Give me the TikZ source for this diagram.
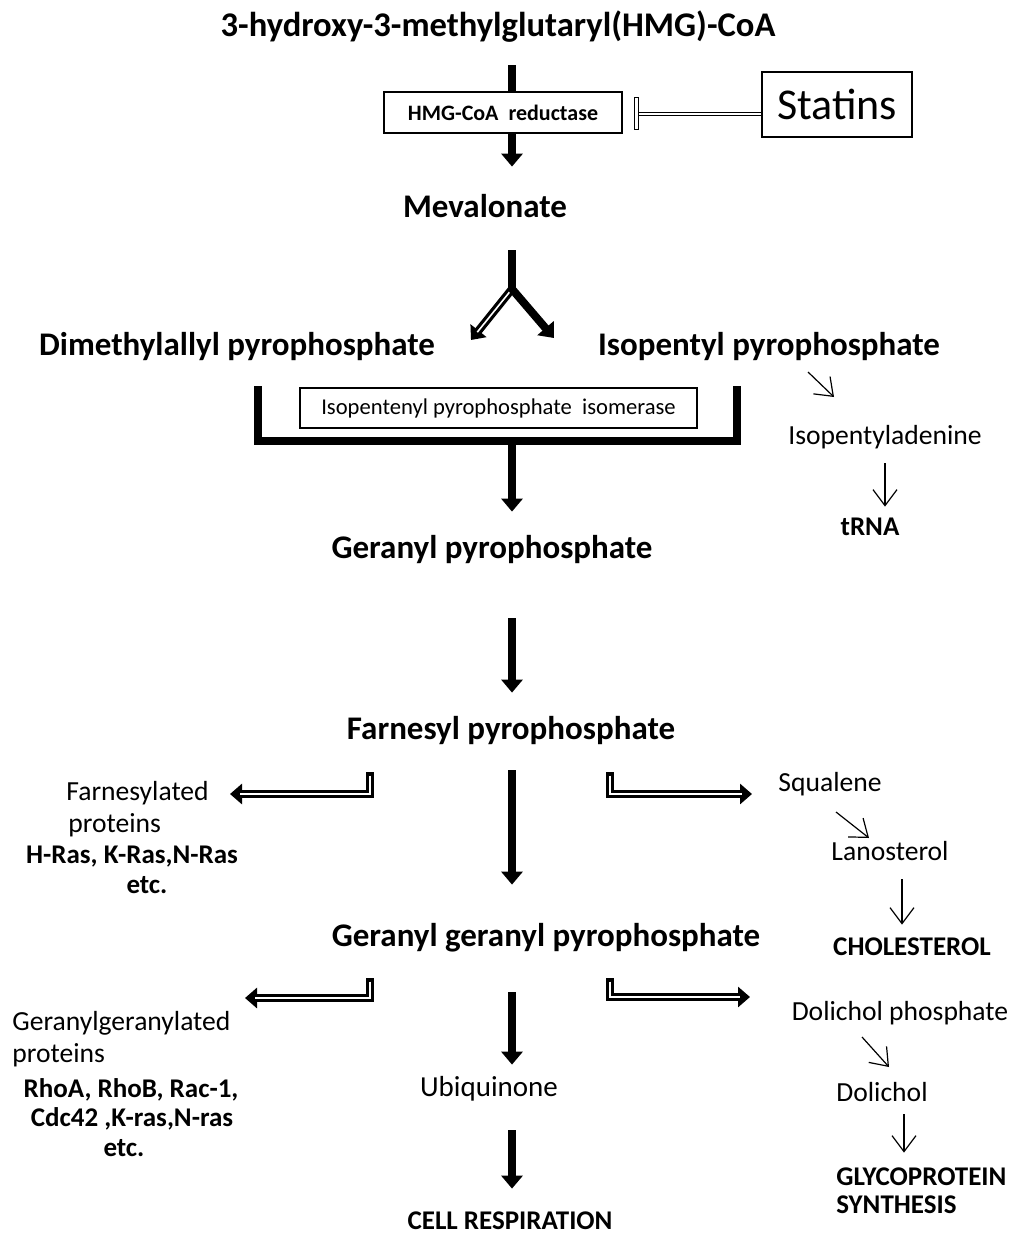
\documentclass[tikz,border=0pt]{standalone}
\usepackage{fontspec}
\setmainfont{Carlito}
\usetikzlibrary{arrows.meta}

\tikzset{
  big/.style={font=\bfseries\fontsize{16.5}{20}\selectfont,text height=12pt,text depth=4pt,inner sep=0pt,anchor=base},
  side/.style={font=\fontsize{13.8}{16}\selectfont,text height=10pt,text depth=3.5pt,inner sep=0pt,anchor=base},
  sidebold/.style={font=\bfseries\fontsize{13.5}{16}\selectfont,text height=10pt,text depth=3.5pt,inner sep=0pt,anchor=base},
  enzbox/.style={draw,line width=1pt,inner sep=0pt},
  fat/.style={line width=4pt,-{Triangle[width=10.5pt,length=6.5pt]}},
  fatline/.style={line width=4pt},
  hollow/.style={line width=4pt,-{Triangle[width=10pt,length=6pt]},
    postaction={draw=white,line width=0.8pt,-,shorten <=1.8pt,shorten >=5pt}},
  thinarrow/.style={line width=0.6pt,-{Straight Barb[length=8pt,width=12pt]}},
  inhib/.style={double,double distance=1.3pt,line width=0.5pt}
}

\begin{document}
\begin{tikzpicture}[x=0.5pt,y=-0.5pt]
\useasboundingbox (0,0) rectangle (1014,1236);
%% main column
\coordinate (spine) at (512,0);
\node[big,font=\bfseries\fontsize{17.3}{20}\selectfont] (hmgcoa) at (498,37) {3-hydroxy-3-methylglutaryl(HMG)-CoA};
\node[enzbox,minimum width=119pt,minimum height=20.5pt,font=\bfseries\fontsize{11}{13}\selectfont] (reductase) at (503,113) {HMG-CoA~~reductase};
\node[draw,line width=0.8pt,minimum width=75pt,minimum height=32.5pt,inner sep=0pt,font=\fontsize{22}{24}\selectfont] (statins) at (837,104.5) {Statins};
\node[draw,line width=0.5pt,minimum width=2pt,minimum height=16pt,inner sep=0pt] (tbar) at (636,114) {};
\node[big] (meval) at (485,217) {Mevalonate};
\node[big] (dmapp) at (237,355) {Dimethylallyl pyrophosphate};
\node[big] (ipp) at (769,355) {Isopentyl pyrophosphate};
\node[enzbox,line width=0.8pt,minimum width=198.5pt,minimum height=20pt,font=\fontsize{11.3}{13}\selectfont] (isomerase) at (498.5,408) {Isopentenyl pyrophosphate~ isomerase};
\node[big] (gpp) at (492,558) {Geranyl pyrophosphate};
\node[big] (fpp) at (511,739) {Farnesyl pyrophosphate};
\node[big] (ggpp) at (546,946) {Geranyl geranyl pyrophosphate};
\node[side,font=\fontsize{14.5}{16}\selectfont] (ubiq) at (489,1096) {Ubiquinone};
\node[sidebold] (resp) at (510,1229) {CELL RESPIRATION};

%% right side
\node[side] (ipa) at (885,444) {Isopentyladenine};
\node[sidebold] (trna) at (870,535) {tRNA};
\node[side] (squal) at (830,791) {Squalene};
\node[side] (lano) at (890,860) {Lanosterol};
\node[sidebold] (chol) at (912,955) {CHOLESTEROL};
\node[side] (dolp) at (900,1020) {Dolichol phosphate};
\node[side] (dol) at (882,1101) {Dolichol};
\node[sidebold,anchor=base west] (glyco) at (836,1185) {GLYCOPROTEIN};
\node[sidebold,anchor=base west] (synth) at (836,1213) {SYNTHESIS};

%% left side
\node[side,anchor=base west] (fprot) at (66,800) {Farnesylated};
\node[side,anchor=base west] (fprot2) at (68,832) {proteins};
\node[sidebold] (ras) at (132,863) {H-Ras, K-Ras,N-Ras};
\node[sidebold] (fetc) at (147,893) {etc.};
\node[side,anchor=base west] (ggprot) at (12,1030) {Geranylgeranylated};
\node[side,anchor=base west] (ggprot2) at (12,1062) {proteins};
\node[sidebold] (rho) at (131,1097) {RhoA, RhoB, Rac-1,};
\node[sidebold] (cdc) at (132,1126) {Cdc42 ,K-ras,N-ras};
\node[sidebold] (ggetc) at (124,1156) {etc.};

%% points
\coordinate (fork) at (512,289);
\coordinate (dmtip) at (471,340);
\coordinate (iptip) at (554,338);
\coordinate (brk) at (512,441);
\coordinate (fleft) at (370,772);
\coordinate (fltip) at (230,794);
\coordinate (fright) at (610,772);
\coordinate (frtip) at (752,794);
\coordinate (gleft) at (370,978);
\coordinate (gltip) at (245,998);
\coordinate (gright) at (610,978);
\coordinate (grtip) at (750,997);

%% arrows
\draw[fatline,shorten <=10pt] (hmgcoa.south -| spine) -- (reductase.north -| spine);
\draw[fat,shorten >=13pt] (reductase.south -| spine) -- (meval.north -| spine);
\draw[inhib] (statins.west |- tbar) -- (tbar.east);
\draw[fatline,shorten <=12.5pt] (meval.south -| spine) -- (fork);
\draw[hollow] (fork) -- (dmtip);
\draw[fat] (fork) -- (iptip);
\draw[fatline,line join=miter] (258,386) |- (brk) -| (737,386);
\draw[fat,shorten >=11pt] (brk) -- (gpp.north -| spine);
\draw[fat,shorten <=26pt,shorten >=11pt] (gpp.south -| spine) -- (fpp.north -| spine);
\draw[fat,shorten <=11.5pt,shorten >=18.5pt] (fpp.south -| spine) -- (ggpp.north -| spine);
\draw[fat,shorten <=19pt,shorten >=5.5pt] (ggpp.south -| spine) -- (ubiq.north -| spine);
\draw[fat,shorten <=13.5pt,shorten >=10pt] (ubiq.south -| spine) -- (resp.north -| spine);

\draw[hollow] (fleft) |- (fltip);
\draw[hollow] (fright) |- (frtip);
\draw[hollow] (gleft) |- (gltip);
\draw[hollow] (gright) |- (grtip);

\draw[thinarrow] (808,372) -- (834,397);
\draw[thinarrow,shorten <=6pt,shorten >=4pt] (ipa.south -| 885,0) -- (trna.north -| 885,0);
\draw[thinarrow] (836,812) -- (869,838);
\draw[thinarrow,shorten <=6pt,shorten >=5pt] (lano.south -| 902,0) -- (chol.north -| 902,0);
\draw[thinarrow] (862,1037) -- (889,1067);
\draw[thinarrow,shorten <=3pt,shorten >=6pt] (dol.south -| 904,0) -- (glyco.north -| 904,0);
\end{tikzpicture}
\end{document}
